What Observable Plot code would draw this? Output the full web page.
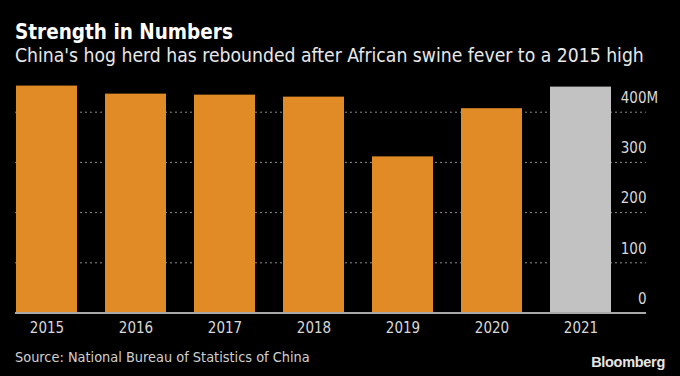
<!DOCTYPE html>
<html><head><meta charset="utf-8">
<script src="https://cdn.jsdelivr.net/npm/d3@7"></script>
<script src="https://cdn.jsdelivr.net/npm/@observablehq/plot@0.6"></script>
<style>
body{margin:0;background:#000;width:680px;height:376px;overflow:hidden;position:relative;font-family:"DejaVu Sans Condensed","DejaVu Sans",sans-serif;font-stretch:condensed;}
#title{position:absolute;left:15px;top:21.5px;font-size:20.5px;line-height:20.5px;font-weight:bold;color:#fff;white-space:nowrap;}
#subtitle{position:absolute;left:15px;top:45.5px;font-size:19.2px;line-height:19.2px;color:#e8e8e8;white-space:nowrap;}
#chart{position:absolute;left:0;top:70px;}
#source{position:absolute;left:15px;top:350px;font-size:14.4px;line-height:14.4px;color:#d0d0d0;white-space:nowrap;}
#brand{position:absolute;right:15px;top:355px;font-size:14.5px;line-height:14.5px;font-weight:bold;color:#e6e6e6;font-family:"Liberation Sans",Arial,sans-serif;letter-spacing:-0.3px;}
</style>
</head><body>
<div id="title">Strength in Numbers</div>
<div id="subtitle">China's hog herd has rebounded after African swine fever to a 2015 high</div>
<div id="chart"></div>
<div id="source">Source: National Bureau of Statistics of China</div>
<div id="brand">Bloomberg</div>
<script>
const years = ["2015","2016","2017","2018","2019","2020","2021"];
const herd = [452, 436, 434, 430, 311, 407, 450];
const kinds = ["past","past","past","past","past","past","latest"];
const yTicks = [0, 100, 200, 300, 400];

const data = years.map((y, i) => ({year: y, value: herd[i], kind: kinds[i]}));
const font = '"DejaVu Sans Condensed","DejaVu Sans",sans-serif';

const chart = Plot.plot({
  width: 680, height: 270,
  marginLeft: 15, marginRight: 34, marginTop: 0, marginBottom: 27.5,
  style: {background: "#000", color: "#d9d9d9", fontFamily: font, fontSize: "15px", fontStretch: "condensed"},
  x: {domain: years, range: [15, 613.3], paddingInner: 0.31, paddingOuter: 0, label: null},
  y: {domain: [0, 400], range: [242.5, 41.7], label: null},
  color: {domain: ["past", "latest"], range: ["#e08b26", "#c2c2c2"]},
  marks: [
    Plot.ruleY(yTicks.slice(1), {stroke: "#8c8c8c", strokeDasharray: "2,3", strokeWidth: 1}),
    Plot.barY(data, {x: "year", y: "value", fill: "kind"}),
    Plot.ruleY([0], {stroke: "#a8a8a8", strokeWidth: 2}),
    Plot.axisX({tickSize: 0, tickPadding: 9, fontSize: 15, fill: "#d9d9d9"}),
    Plot.axisY(yTicks, {anchor: "right", tickSize: 0, tickPadding: 0, textAnchor: "end", dy: -14, fontSize: 15, fill: "#d9d9d9", label: null}),
    Plot.text([400], {y: d => d, text: () => "M", frameAnchor: "right", textAnchor: "start", dy: -14, fontSize: 15, fill: "#d9d9d9"})
  ]
});
document.getElementById("chart").append(chart);
</script>
</body></html>
